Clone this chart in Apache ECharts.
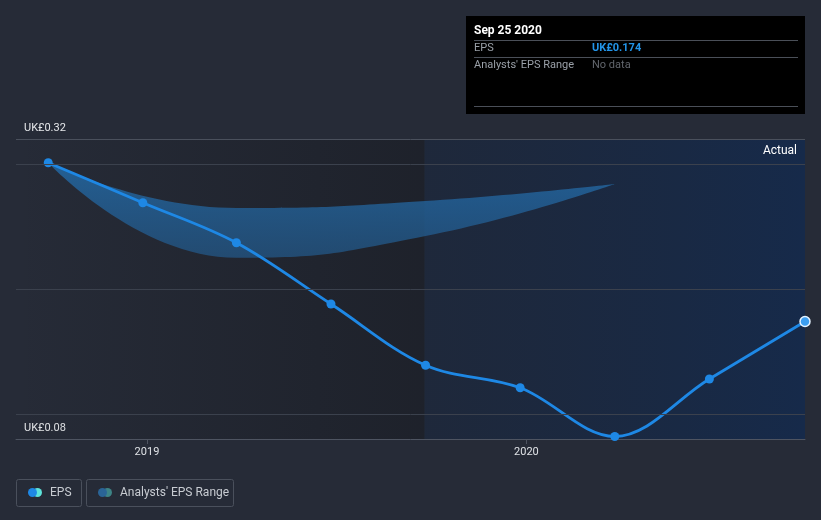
<!DOCTYPE html>
<html>
<head>
<meta charset="utf-8">
<script src="https://cdn.jsdelivr.net/npm/echarts@6/dist/echarts.min.js"></script>
<style>
html,body{margin:0;padding:0;background:#262b37;}
#chart{width:821px;height:520px;}
</style>
</head>
<body>
<div id="chart"></div>
<script>
// ---- data ----
const epsDates = ['2018-09-28','2018-12-28','2019-03-28','2019-06-27','2019-09-26','2019-12-26','2020-03-26','2020-06-25','2020-09-25'];
const epsValues = [0.301, 0.269, 0.237, 0.188, 0.139, 0.121, 0.082, 0.128, 0.174];
const rangeDates = ['2018-09-28','2019-03-28','2019-09-26','2020-03-26'];
const rangeLow  = [0.301, 0.225, 0.2424, 0.284];
const rangeHigh = [0.301, 0.2648, 0.2704, 0.284];
const gridValues = [0.1, 0.2, 0.3, 0.32];
const yLabelValues = [0.08, 0.32];
const xMin = '2018-08-28';
const xMax = '2020-09-25';
const pastYearStart = '2019-09-25';
const tooltipDate = 'Sep 25 2020';
const legendNames = ['EPS', "Analysts' EPS Range"];

const FONT = 'Roboto, "Noto Sans", sans-serif';
const chart = echarts.init(document.getElementById('chart'), null, {renderer:'canvas'});

const lowData = rangeDates.map((d,i)=>[d, rangeLow[i]]);
const diffData = rangeDates.map((d,i)=>[d, +(rangeHigh[i]-rangeLow[i]).toFixed(6)]);
const epsData = epsDates.map((d,i)=>{
  const item = {value:[d, epsValues[i]]};
  if (i === epsDates.length-1) {
    item.symbolSize = 10;
    item.itemStyle = {color:'#3c9ef0', borderColor:'#e6f3ff', borderWidth:1.5};
  }
  return item;
});

const lastVal = epsValues[epsValues.length-1];

const tipX = 466, tipY = 16, tipW = 339, tipH = 98;
const tipGraphics = [
  {type:'rect', shape:{x:tipX, y:tipY, width:tipW, height:tipH}, style:{fill:'#000'}},
  {type:'text', x:474, y:31, style:{text:tooltipDate, fill:'#fff', font:'bold 12px '+FONT, verticalAlign:'middle'}},
  {type:'line', shape:{x1:474, y1:40.5, x2:798, y2:40.5}, style:{stroke:'#4a4f58', lineWidth:1}},
  {type:'text', x:474, y:48, style:{text:legendNames[0], fill:'#9aa0a8', font:'11px '+FONT, verticalAlign:'middle'}},
  {type:'text', x:592, y:48, style:{text:'UK£'+lastVal.toFixed(3), fill:'#2394e8', font:'bold 11px '+FONT, verticalAlign:'middle'}},
  {type:'line', shape:{x1:474, y1:57.5, x2:798, y2:57.5}, style:{stroke:'#4a4f58', lineWidth:1}},
  {type:'text', x:474, y:65, style:{text:legendNames[1], fill:'#9aa0a8', font:'11px '+FONT, verticalAlign:'middle'}},
  {type:'text', x:592, y:65, style:{text:'No data', fill:'#62666d', font:'11px '+FONT, verticalAlign:'middle'}},
  {type:'line', shape:{x1:474, y1:106.5, x2:798, y2:106.5}, style:{stroke:'#4a4f58', lineWidth:1}}
];

const legendGraphics = [
  {type:'rect', shape:{x:16.5, y:479.5, width:65, height:27, r:2}, style:{fill:'none', stroke:'#4a505c', lineWidth:1}},
  {type:'circle', shape:{cx:37.5, cy:492.5, r:4.5}, style:{fill:'#5de3da'}},
  {type:'circle', shape:{cx:32.5, cy:492.5, r:4.5}, style:{fill:'#1e88e5'}},
  {type:'text', x:50, y:493, style:{text:legendNames[0], fill:'#c8ccd2', font:'12px '+FONT, verticalAlign:'middle'}},
  {type:'rect', shape:{x:86.5, y:479.5, width:147, height:27, r:2}, style:{fill:'none', stroke:'#4a505c', lineWidth:1}},
  {type:'circle', shape:{cx:107.5, cy:492.5, r:4.5}, style:{fill:'#3d8486'}},
  {type:'circle', shape:{cx:102.5, cy:492.5, r:4.5}, style:{fill:'#2a6496'}},
  {type:'text', x:120, y:493, style:{text:legendNames[1], fill:'#c8ccd2', font:'12px '+FONT, verticalAlign:'middle'}},
  {type:'text', x:797, y:151, style:{text:'Actual', fill:'#ffffff', font:'12px '+FONT, align:'right', verticalAlign:'middle'}}
];

const allGraphics = tipGraphics.concat(legendGraphics).map(g=>Object.assign({z:100, silent:true}, g));

const option = {
  backgroundColor:'#262b37',
  animation:false,
  textStyle:{fontFamily:FONT},
  grid:{left:16, right:16, top:139, bottom:81, containLabel:false},
  xAxis:{
    type:'time', min:xMin, max:xMax, splitNumber:2,
    axisLine:{show:true, lineStyle:{color:'#4e5461', width:1}},
    axisTick:{show:true, length:5, lineStyle:{color:'#4e5461'}},
    axisLabel:{color:'#dfe2e6', fontSize:11, margin:8, fontFamily:FONT,
      formatter:(v)=>{const d=new Date(v); return (d.getMonth()===0 && d.getDate()===1)? String(d.getFullYear()):'';}},
    splitLine:{show:false}
  },
  yAxis:{
    type:'value', min:0.08, max:0.32, interval:0.02,
    axisLine:{show:false}, axisTick:{show:false}, splitLine:{show:false},
    axisLabel:{inside:true, margin:8, color:'#e6e8eb', fontSize:11, fontFamily:FONT, verticalAlign:'bottom', padding:[0,0,5,0],
      showMinLabel:true, showMaxLabel:true,
      formatter:(v)=> yLabelValues.some(t=>Math.abs(t-v)<1e-6) ? 'UK£'+v.toFixed(2) : ''}
  },
  graphic: {elements: allGraphics},
  series:[
    {
      type:'line', name:'bg', data:[], silent:true, z:1,
      markArea:{silent:true, data:[
        [{xAxis:xMin, itemStyle:{color:{type:'linear', x:0, y:0, x2:1, y2:0, colorStops:[{offset:0, color:'rgba(20,22,28,0)'},{offset:1, color:'rgba(20,22,28,0.45)'}]}}},{xAxis:pastYearStart}],
        [{xAxis:pastYearStart, itemStyle:{color:{type:'linear', x:0, y:0, x2:1, y2:0, colorStops:[{offset:0, color:'rgba(24,38,62,0.55)'},{offset:1, color:'rgba(22,42,74,1)'}]}}},{xAxis:xMax}]
      ]},
      markLine:{silent:true, symbol:'none', label:{show:false},
        lineStyle:{color:'#3b414d', type:'solid', width:1},
        data: gridValues.map(v=>({yAxis:v, lineStyle: v===0.32?{color:'#4a505c', type:'solid', width:1}:undefined}))}
    },
    {
      type:'line', name:'rangeLow', data:lowData, stack:'range', smooth:0.5, symbol:'none', silent:true, z:2,
      lineStyle:{opacity:0}, areaStyle:{opacity:0}
    },
    {
      type:'line', name:legendNames[1], data:diffData, stack:'range', smooth:0.5, symbol:'none', silent:true, z:2,
      lineStyle:{opacity:0},
      areaStyle:{opacity:1, color:{type:'linear', x:0, y:0, x2:0, y2:1, colorStops:[{offset:0, color:'rgba(35,105,165,0.85)'},{offset:1, color:'rgba(35,90,140,0.7)'}]}}
    },
    {
      type:'line', name:legendNames[0], data:epsData, smooth:0.35, z:3,
      symbol:'circle', symbolSize:9, showAllSymbol:true,
      lineStyle:{color:'#1e88e5', width:2.8},
      itemStyle:{color:'#1e88e5'}
    }
  ]
};
chart.setOption(option);
</script>
</body>
</html>
